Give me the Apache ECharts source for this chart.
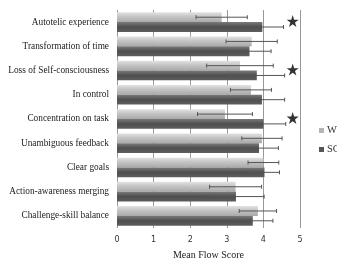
<!DOCTYPE html>
<html>
<head>
<meta charset="utf-8">
<script src="https://cdn.jsdelivr.net/npm/echarts@6/dist/echarts.min.js"></script>
<style>
html, body { margin: 0; padding: 0; background: #fff; }
#chart { width: 337px; height: 259px; }
</style>
</head>
<body>
<div id="chart"></div>
<script>
// subscales, top to bottom
var subscales = ['Autotelic experience', 'Transformation of time', 'Loss of Self-consciousness',
    'In control', 'Concentration on task', 'Unambiguous feedback', 'Clear goals',
    'Action-awareness merging', 'Challenge-skill balance'];
var wmMean = [2.86, 3.68, 3.36, 3.66, 2.95, 3.96, 4.00, 3.24, 3.85];
var wmSd   = [0.70, 0.70, 0.91, 0.56, 0.75, 0.55, 0.42, 0.71, 0.51];
var scMean = [3.97, 3.62, 3.82, 3.96, 4.00, 3.88, 4.03, 3.25, 3.71];
var scSd   = [0.58, 0.59, 0.76, 0.62, 0.61, 0.53, 0.41, 0.77, 0.55];
// significant differences marked with a star
var starRows = ['Autotelic experience', 'Loss of Self-consciousness', 'Concentration on task'];
var starX = 4.8;

var serif = 'Liberation Serif';
var barW = 9.8;

var myChart = echarts.init(document.getElementById('chart'));

function errorBars(means, sds, offset) {
    var data = means.map(function (m, i) { return [i, m - sds[i], m + sds[i]]; });
    return {
        type: 'custom',
        data: data,
        z: 5,
        renderItem: function (params, api) {
            var lo = api.coord([api.value(1), api.value(0)]);
            var hi = api.coord([api.value(2), api.value(0)]);
            var y = lo[1] + offset;
            var cap = 2;
            var st = { stroke: '#555', lineWidth: 1 };
            return {
                type: 'group',
                children: [
                    { type: 'line', shape: { x1: lo[0], y1: y, x2: hi[0], y2: y }, style: st },
                    { type: 'line', shape: { x1: lo[0], y1: y - cap, x2: lo[0], y2: y + cap }, style: st },
                    { type: 'line', shape: { x1: hi[0], y1: y - cap, x2: hi[0], y2: y + cap }, style: st }
                ]
            };
        }
    };
}

var lightGrad = new echarts.graphic.LinearGradient(0, 0, 0, 1, [
    { offset: 0, color: '#e2e2e2' },
    { offset: 0.45, color: '#c4c4c4' },
    { offset: 1, color: '#a9a9a9' }
]);
var darkGrad = new echarts.graphic.LinearGradient(0, 0, 0, 1, [
    { offset: 0, color: '#7a7a7a' },
    { offset: 0.5, color: '#4e4e4e' },
    { offset: 1, color: '#5e5e5e' }
]);

myChart.setOption({
    animation: false,
    grid: { left: 117, right: 37, top: 10, bottom: 31, outerBoundsMode: 'none', containLabel: false },
    legend: {
        orient: 'vertical',
        left: 314,
        top: 120,
        itemWidth: 5,
        itemHeight: 5,
        itemGap: 8,
        icon: 'rect',
        textStyle: { fontFamily: serif, fontSize: 10.5, color: '#333', padding: [0, 0, 0, -2] },
        data: [
            { name: 'WM', itemStyle: { color: '#b5b5b5' } },
            { name: 'SC', itemStyle: { color: '#555' } }
        ]
    },
    xAxis: {
        type: 'value',
        min: 0,
        max: 5,
        interval: 1,
        name: 'Mean Flow Score',
        nameLocation: 'middle',
        nameGap: 22,
        nameTextStyle: { fontFamily: serif, fontSize: 10, color: '#222' },
        axisLine: { show: false },
        axisTick: { show: false },
        axisLabel: { fontFamily: 'DejaVu Sans', fontSize: 8, color: '#333', margin: 8 },
        splitLine: { show: true, lineStyle: { color: '#999', width: 1 } }
    },
    yAxis: {
        type: 'category',
        inverse: true,
        data: subscales,
        name: 'Flow Subscale',
        nameLocation: 'middle',
        nameGap: 109,
        nameTextStyle: { fontFamily: serif, fontSize: 10, color: '#222' },
        axisLine: { show: false },
        axisTick: { show: false },
        axisLabel: { fontFamily: serif, fontSize: 9.3, color: '#222', margin: 8 }
    },
    series: [
        {
            name: 'WM',
            type: 'bar',
            data: wmMean,
            barWidth: barW,
            barGap: '0%',
            itemStyle: { color: lightGrad }
        },
        {
            name: 'SC',
            type: 'bar',
            data: scMean,
            barWidth: barW,
            barGap: '0%',
            itemStyle: { color: darkGrad }
        },
        errorBars(wmMean, wmSd, -barW / 2),
        errorBars(scMean, scSd, barW / 2),
        {
            type: 'scatter',
            data: starRows.map(function (s) { return [starX, s]; }),
            symbol: 'path://M50,0 L61.8,35.1 L98.9,35.1 L68.9,56.9 L80.3,92 L50,70.3 L19.7,92 L31.1,56.9 L1.1,35.1 L38.2,35.1 Z',
            symbolSize: 12,
            symbolOffset: [0, -1],
            itemStyle: { color: '#000' },
            z: 6
        }
    ]
});
</script>
</body>
</html>
